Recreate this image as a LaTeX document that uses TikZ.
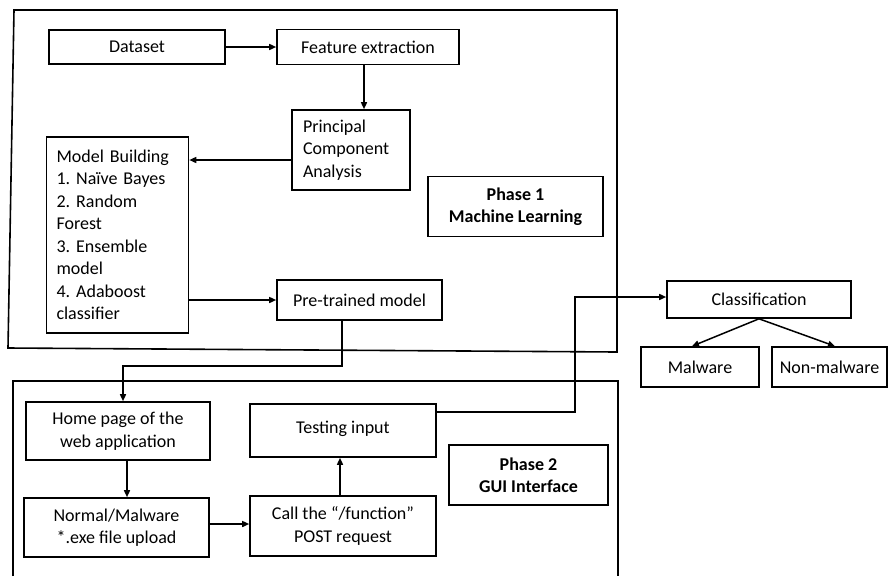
\documentclass[tikz,border=0pt]{standalone}
\usepackage{fontspec}
\setmainfont{Carlito}
\usetikzlibrary{arrows.meta}
\begin{document}
\frenchspacing
\begin{tikzpicture}[x=1pt,y=-1pt,
  box/.style={draw,line width=1.6pt,inner sep=0pt,align=center,font=\fontsize{18}{22.5}\selectfont},
  arr/.style={line width=1.5pt,-{Triangle[length=7pt,width=6pt]}},
  frame/.style={line width=1.6pt}]
\useasboundingbox (0,0) rectangle (888,576);
% outer frames
\draw[frame] (14,10) -- (617,10) -- (617,352) -- (8,348) -- cycle;
\draw[frame] (13,576) -- (13,381) -- (618,381) -- (618,576);
% phase 1 nodes
\node[box,minimum width=176,minimum height=34] (data) at (137,47) {Dataset};
\node[box,minimum width=182,minimum height=35] (feat) at (368,47) {Feature extraction};
\node[box,minimum width=118,minimum height=80,text width=96,align=left] (pca) at (351,150) {Principal\\Component\\Analysis};
\node[box,minimum width=142,minimum height=196,text width=122,align=left] (model) at (117.5,235) {Model Building\\1. Naïve Bayes\\2. Random\\Forest\\3. Ensemble\\model\\4. Adaboost\\classifier};
\node[box,minimum width=165,minimum height=40] (pre) at (359.5,300) {Pre-trained model};
\node[box,minimum width=175,minimum height=60,font=\fontsize{18}{22.5}\selectfont\bfseries] (ph1) at (515.5,206.5) {Phase 1\\Machine Learning};
% classification
\node[box,minimum width=184,minimum height=37] (cls) at (759,299.5) {Classification};
\node[box,minimum width=118,minimum height=40] (mal) at (700,367) {Malware};
\node[box,minimum width=115,minimum height=40] (non) at (829.5,367) {Non-malware};
% phase 2 nodes
\node[box,minimum width=184,minimum height=58] (home) at (118,431) {Home page of the\\web application};
\node[box,minimum width=185,minimum height=59] (norm) at (116.5,527.5) {Normal/Malware\\*.exe file upload};
\node[box,minimum width=186,minimum height=60] (call) at (343,526) {Call the “/function”\\POST request};
\node[box,minimum width=186,minimum height=53] (test) at (343,430.5) {\raisebox{7pt}{Testing input}};
\node[box,minimum width=159,minimum height=60,font=\fontsize{18}{22.5}\selectfont\bfseries] (ph2) at (528.5,475) {Phase 2\\GUI Interface};
% connectors
\draw[arr] (data.east) -- (feat.west);
\draw[arr] ([xshift=-4pt]feat.south) -- ([xshift=-4pt]feat.south |- pca.north);
\draw[arr] ([yshift=-10pt]pca.west) -- ([yshift=-10pt]pca.west -| model.east);
\draw[arr] (model.east |- pre.west) -- (pre.west);
\draw[arr] ([xshift=-17.5pt]pre.south) -- ++(0,45) -| ([xshift=5pt]home.north);
\draw[arr] ([xshift=9pt]home.south) -- ([xshift=9pt]home.south |- norm.north);
\draw[arr] ([yshift=3.5pt]norm.east) -- ([yshift=3.5pt]norm.east -| call.west);
\draw[arr] ([xshift=-3pt]call.north) -- ([xshift=-3pt]call.north |- test.south);
\draw[arr] ([yshift=18.5pt]test.east) -- ++(138,0) |- ([yshift=2.5pt]cls.west);
\draw[arr] (cls.south) -- ([xshift=-8pt]mal.north);
\draw[arr] (cls.south) -- ([xshift=5.5pt]non.north);
\end{tikzpicture}
\end{document}
